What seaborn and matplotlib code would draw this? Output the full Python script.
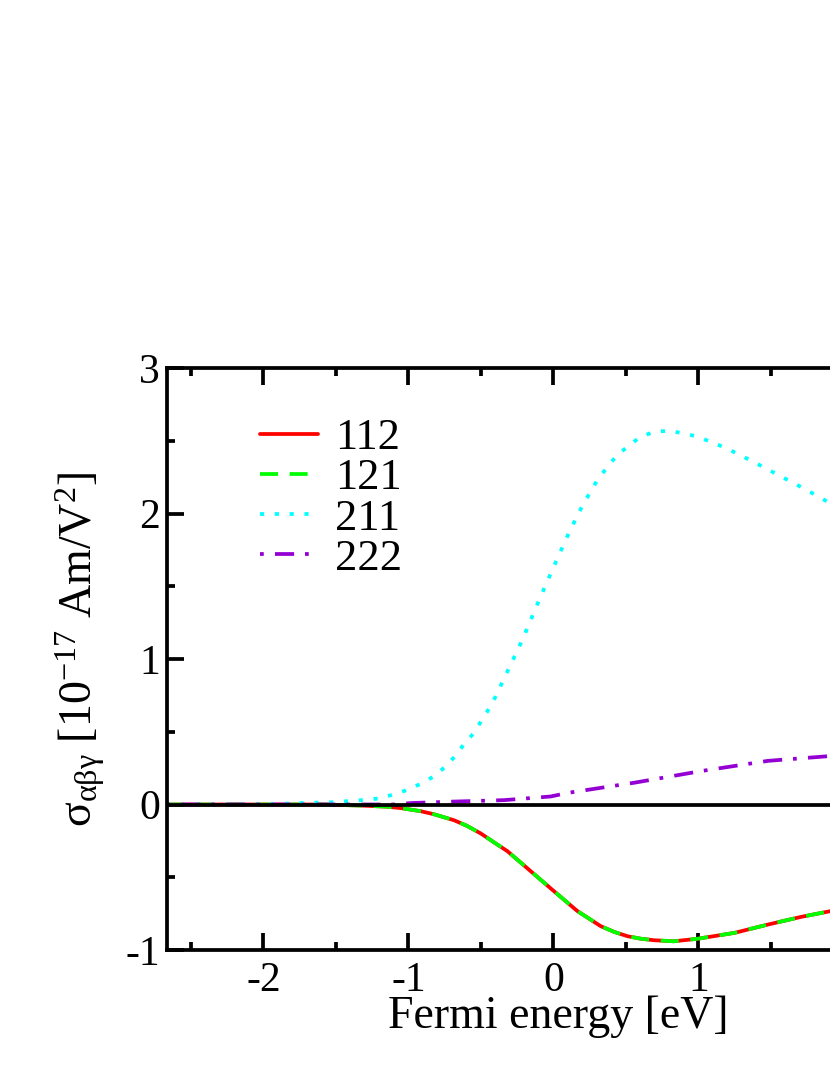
import matplotlib
matplotlib.use("Agg")
import matplotlib.pyplot as plt
import seaborn as sns
import numpy as np
import pandas as pd
from matplotlib.ticker import MultipleLocator

# ---- data ----
x_211 = [-2.67, -2.0, -1.74, -1.52, -1.32, -1.21, -1.12, -1.02, -0.92, -0.83, -0.75, -0.68,
         -0.62, -0.55, -0.50, -0.44, -0.40, -0.31, -0.21, -0.136, -0.055, 0.028, 0.112, 0.204,
         0.308, 0.437, 0.595, 0.69, 0.80, 0.99, 1.19, 1.37, 1.56, 1.74, 1.91, 2.1]
y_211 = [0.0, 0.0, 0.01, 0.016, 0.03, 0.041, 0.064, 0.096, 0.14, 0.19, 0.256, 0.33,
         0.41, 0.49, 0.57, 0.665, 0.74, 0.93, 1.14, 1.318, 1.505, 1.693, 1.878, 2.062,
         2.238, 2.40, 2.524, 2.56, 2.57, 2.53, 2.45, 2.36, 2.26, 2.165, 2.07, 1.97]

x_112 = [-2.67, -1.6, -1.33, -1.15, -1.05, -0.915, -0.82, -0.686, -0.60, -0.501, -0.41, -0.317,
         -0.157, 0.004, 0.166, 0.326, 0.42, 0.51, 0.60, 0.694, 0.83, 0.993, 1.25, 1.48, 1.71,
         1.91, 2.1]
y_112 = [0.0, 0.0, -0.007, -0.015, -0.025, -0.046, -0.068, -0.108, -0.145, -0.199, -0.26, -0.321,
         -0.458, -0.596, -0.733, -0.836, -0.876, -0.905, -0.922, -0.933, -0.94, -0.923, -0.882,
         -0.825, -0.772, -0.733, -0.69]
x_121 = list(x_112)
y_121 = list(y_112)

x_222 = [-2.67, -1.1, -0.98, -0.69, -0.34, -0.02, 0.10, 0.56, 1.02, 1.48, 1.87, 2.1]
y_222 = [0.0, 0.0, 0.01, 0.02, 0.03, 0.055, 0.08, 0.15, 0.23, 0.30, 0.33, 0.35]

labels = ["112", "121", "211", "222"]
colors = ["#ff0000", "#00ff00", "#00ffff", "#9400d3"]

# ---- style ----
sns.set_style("ticks")
plt.rcParams["font.family"] = ["Liberation Serif", "DejaVu Serif"]
plt.rcParams["mathtext.fontset"] = "custom"
plt.rcParams["mathtext.rm"] = "Liberation Serif"
plt.rcParams["mathtext.it"] = "Liberation Serif:italic"
plt.rcParams["axes.unicode_minus"] = False
plt.rcParams["text.color"] = "black"
plt.rcParams["axes.labelcolor"] = "black"
plt.rcParams["xtick.color"] = "black"
plt.rcParams["ytick.color"] = "black"

fig = plt.figure(figsize=(8.3, 10.75), dpi=100)
xmin, xmax = -2.667, 2.667
axw = (xmax - xmin) * 145
ax = fig.add_axes([166.7 / 830, 125 / 1075, axw / 830, 582 / 1075])

lw = 2.7
sns.lineplot(x=x_112, y=y_112, ax=ax, color=colors[0], lw=lw, label=labels[0],
             linestyle="-", sort=False, estimator=None)
sns.lineplot(x=x_121, y=y_121, ax=ax, color=colors[1], lw=lw, label=labels[1],
             linestyle=(0, (4.8, 3.1)), sort=False, estimator=None)
sns.lineplot(x=x_211, y=y_211, ax=ax, color=colors[2], lw=lw, label=labels[2],
             linestyle=(0, (1.1, 2.85)), sort=False, estimator=None)
sns.lineplot(x=x_222, y=y_222, ax=ax, color=colors[3], lw=lw, label=labels[3],
             linestyle=(0, (1.0, 3.0, 5.1, 2.9)), sort=False, estimator=None)

ax.axhline(0, color="black", lw=lw, zorder=5)

ax.set_xlim(xmin, xmax)
ax.set_ylim(-1, 3)
ax.xaxis.set_major_locator(MultipleLocator(1))
ax.xaxis.set_minor_locator(MultipleLocator(0.5))
ax.yaxis.set_major_locator(MultipleLocator(1))
ax.yaxis.set_minor_locator(MultipleLocator(0.5))
ax.tick_params(which="both", direction="in", top=True, right=True, width=lw, color="black")
ax.tick_params(which="major", length=12, labelsize=30)
ax.tick_params(axis="x", which="major", pad=8)
ax.tick_params(axis="y", which="major", pad=5)
ax.tick_params(which="minor", length=6)
for s in ax.spines.values():
    s.set_linewidth(lw)
    s.set_color("black")

ax.set_xlabel("Fermi energy [eV]", fontsize=33)
ax.xaxis.set_label_coords((558 - 166.7) / axw, -(995 - 950) / 582)
ax.set_ylabel(r"$\mathrm{σ}_{\mathrm{αβγ}}$ [10$^{\mathrm{-17}}$ Am/V$^{\mathrm{2}}$]", fontsize=33)
ax.yaxis.label.set_va("center")
ax.yaxis.set_label_coords((80 - 166.7) / axw, (950 - 649) / 582)

leg = ax.legend(loc="upper left", bbox_to_anchor=(238 / 830, 1 - 396 / 1075),
                bbox_transform=fig.transFigure, frameon=False, fontsize=32,
                handlelength=1.31, handletextpad=0.38, labelspacing=0.0, borderpad=0)

fig.savefig("out.png", dpi=100)
